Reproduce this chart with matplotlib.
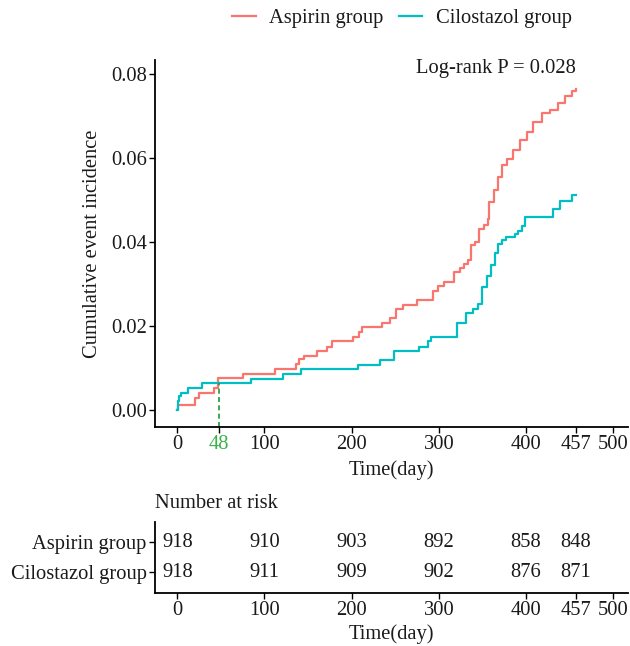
import matplotlib
matplotlib.use("Agg")
import matplotlib.pyplot as plt
from matplotlib.lines import Line2D

plt.rcParams['font.family'] = ['Liberation Serif', 'DejaVu Serif']
FS = 14.8
plt.rcParams['font.size'] = FS

# ---------------- data ----------------
groups = ["Aspirin group", "Cilostazol group"]
colors = ["#F8766D", "#00BFC4"]

aspirin_t = [0, 1, 20, 25, 42, 47, 75, 112, 136, 140, 145, 160, 172, 177, 201, 208, 212,
             235, 244, 251, 259, 275, 293, 299, 306, 317, 324, 329, 333, 337, 342, 346,
             352, 356, 358, 363, 368, 373, 378, 385, 393, 401, 408, 418, 428, 437, 445,
             453, 457]
aspirin_v = [0, 0.0011, 0.0028, 0.0041, 0.0052, 0.0076, 0.0086, 0.0097, 0.011, 0.012,
             0.0129, 0.014, 0.015, 0.0164, 0.0174, 0.0185, 0.0197, 0.0208, 0.0218, 0.024,
             0.0251, 0.0261, 0.0283, 0.0295, 0.0305, 0.0328, 0.0338, 0.0347, 0.0356,
             0.0392, 0.040, 0.0431, 0.0441, 0.0455, 0.0495, 0.0523, 0.0555, 0.0583,
             0.0599, 0.0619, 0.0643, 0.0663, 0.0687, 0.0707, 0.0715, 0.0731, 0.0747,
             0.0760, 0.0765]

cilo_t = [0, 1, 2, 4, 12, 28, 85, 121, 142, 207, 232, 248, 277, 288, 291, 321, 331, 339,
          345, 350, 355, 360, 364, 368, 373, 377, 387, 391, 395, 399, 431, 439, 453, 457]
cilo_v = [0, 0.002, 0.0032, 0.0041, 0.0052, 0.0064, 0.0074, 0.0086, 0.0097, 0.0108,
          0.0118, 0.014, 0.015, 0.0164, 0.0174, 0.0208, 0.023, 0.024, 0.0253, 0.0293,
          0.0318, 0.0345, 0.0375, 0.0395, 0.0405, 0.0411, 0.0419, 0.0427, 0.0439,
          0.0459, 0.0479, 0.0499, 0.0511, 0.0511]

crossing_day = 48
crossing_value = 0.0064
p_text = "Log-rank P = 0.028"

x_ticks = [0, 48, 100, 200, 300, 400, 457, 500]
y_ticks = [0.00, 0.02, 0.04, 0.06, 0.08]

risk_times = [0, 100, 200, 300, 400, 457]
risk_aspirin = [918, 910, 903, 892, 858, 848]
risk_cilo = [918, 911, 909, 902, 876, 871]
table_ticks = [0, 100, 200, 300, 400, 457, 500]

TXT = "#1a1a1a"

# ---------------- figure ----------------
fig = plt.figure(figsize=(6.3, 6.46), dpi=100)
W, H = 630, 646
L, R = 155 / W, 628 / W

ax = fig.add_axes([L, 1 - 427 / H, R - L, (427 - 60) / H])
ax.step(aspirin_t, aspirin_v, where="post", color=colors[0], lw=1.6)
ax.step(cilo_t, cilo_v, where="post", color=colors[1], lw=1.6)
xlim = (-25.6, 517)
ylim = (-0.0041, 0.0834)
ax.set_xlim(*xlim)
ax.set_ylim(*ylim)
ax.plot([crossing_day, crossing_day], [ylim[0], crossing_value], color="#1a9a3a",
        lw=1.2, ls=(0, (3, 2)))
ax.set_xticks(x_ticks)
ax.set_xticklabels([str(t) for t in x_ticks])
for lab, t in zip(ax.get_xticklabels(), x_ticks):
    lab.set_color("#3cb04a" if t == crossing_day else TXT)
ax.set_yticks(y_ticks)
ax.set_yticklabels([f"{v:.2f}" for v in y_ticks], color=TXT)
ax.set_xlabel("Time(day)", labelpad=4, color=TXT)
ax.set_ylabel("Cumulative event incidence", labelpad=6, color=TXT)
for s in ["top", "right"]:
    ax.spines[s].set_visible(False)
for s in ["left", "bottom"]:
    ax.spines[s].set_linewidth(1.3)
ax.tick_params(length=4, width=1, pad=2, labelsize=FS)
ax.text(457, 0.0814, p_text, ha="right", va="center", fontsize=FS, color=TXT)

# legend
handles = [Line2D([], [], color=c, lw=1.6) for c in colors]
fig.legend(handles, groups, loc="center", bbox_to_anchor=(0.638, 0.972), ncol=2,
           frameon=False, handlelength=1.15, handletextpad=0.65, columnspacing=0.75,
           fontsize=FS, labelcolor=TXT)

# ---------------- risk table ----------------
ax2 = fig.add_axes([L, 1 - 593 / H, R - L, (593 - 522) / H])
ax2.set_xlim(*xlim)
ax2.set_ylim(-0.7, 1.667)
for t, a, c in zip(risk_times, risk_aspirin, risk_cilo):
    ax2.text(t, 1, str(a), ha="center", va="center", fontsize=FS, color=TXT)
    ax2.text(t, 0, str(c), ha="center", va="center", fontsize=FS, color=TXT)
ax2.set_yticks([1, 0])
ax2.set_yticklabels(groups, color=TXT)
ax2.set_xticks(table_ticks)
ax2.set_xticklabels([str(t) for t in table_ticks], color=TXT)
ax2.set_xlabel("Time(day)", labelpad=3, color=TXT)
for s in ["top", "right"]:
    ax2.spines[s].set_visible(False)
for s in ["left", "bottom"]:
    ax2.spines[s].set_linewidth(1.3)
ax2.tick_params(length=4, width=1, pad=2, labelsize=FS)
fig.text(L, 1 - 503 / H, "Number at risk", ha="left", va="center", fontsize=FS,
         color=TXT)

fig.savefig("out.png", dpi=100)
